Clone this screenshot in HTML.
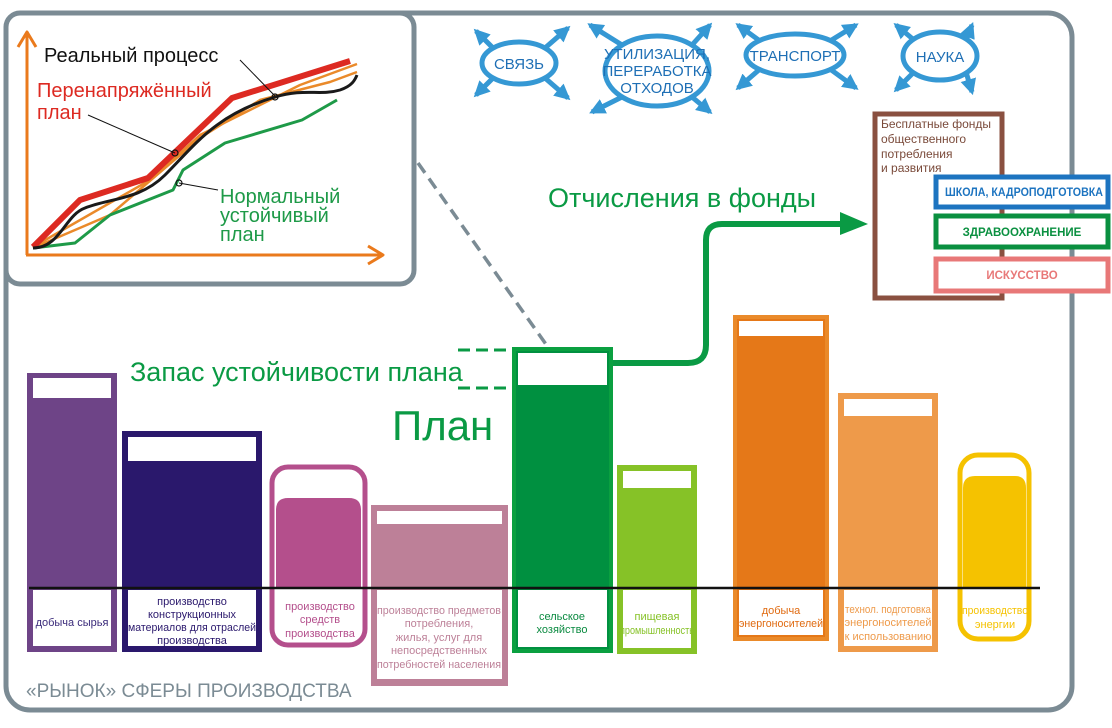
<!DOCTYPE html>
<html><head><meta charset="utf-8"><style>
html,body{margin:0;padding:0;background:#fff;}
svg{display:block;}
text{font-family:"Liberation Sans","DejaVu Sans",sans-serif;}
</style></head><body>
<svg width="1112" height="728" viewBox="0 0 1112 728" xmlns="http://www.w3.org/2000/svg">
<defs>
<marker id="ba" viewBox="0 0 10 10" refX="8" refY="5" markerWidth="3.2" markerHeight="3.2" orient="auto"><path d="M0,0 L10,5 L0,10 z" fill="#3598d4"/></marker>
</defs>
<rect x="6" y="13" width="1066" height="697" rx="24" fill="#fff" stroke="#7b8b94" stroke-width="5"/>

<g stroke="#3598d4" stroke-width="5" fill="none">
<ellipse cx="519" cy="63" rx="37" ry="21"/>
<ellipse cx="657" cy="71" rx="52" ry="35"/>
<ellipse cx="795" cy="55" rx="49" ry="21"/>
<ellipse cx="940" cy="56" rx="37" ry="24"/>
<g stroke-width="5" marker-end="url(#ba)">
<line x1="493" y1="48" x2="476" y2="31"/><line x1="545" y1="48" x2="568" y2="28"/>
<line x1="493" y1="78" x2="476" y2="95"/><line x1="545" y1="78" x2="568" y2="98"/>
<line x1="622" y1="45" x2="590" y2="25"/><line x1="692" y1="45" x2="710" y2="25"/>
<line x1="622" y1="97" x2="592" y2="112"/><line x1="692" y1="97" x2="710" y2="112"/>
<line x1="760" y1="41" x2="738" y2="25"/><line x1="830" y1="41" x2="856" y2="25"/>
<line x1="760" y1="69" x2="738" y2="88"/><line x1="830" y1="69" x2="856" y2="88"/>
<line x1="914" y1="40" x2="896" y2="25"/><line x1="966" y1="40" x2="972" y2="25"/>
<line x1="914" y1="72" x2="896" y2="90"/><line x1="966" y1="72" x2="972" y2="92"/>
</g>
</g>
<g fill="#1e6fb5" font-size="15" text-anchor="middle">
<text x="519" y="69">СВЯЗЬ</text>
<text x="657" y="59">УТИЛИЗАЦИЯ,</text>
<text x="657" y="76">ПЕРЕРАБОТКА</text>
<text x="657" y="93">ОТХОДОВ</text>
<text x="795" y="61">ТРАНСПОРТ</text>
<text x="940" y="62">НАУКА</text>
</g>

<line x1="418" y1="163" x2="550" y2="350" stroke="#7b8b94" stroke-width="3.5" stroke-dasharray="12,7"/>

<rect x="6" y="13" width="408" height="271" rx="14" fill="#fff" stroke="#7b8b94" stroke-width="5"/>
<g fill="none" stroke-linejoin="round">
<path d="M27,255 L27,32 M18,47 L27,32 L36,47" stroke="#ea7a1c" stroke-width="3"/>
<path d="M26,255 L383,255 M368,246 L383,255 L368,264" stroke="#ea7a1c" stroke-width="3"/>
<path d="M33,247 L150,180 L200,135 L300,85 L357,64" stroke="#ea8a2a" stroke-width="2.5"/>
<path d="M33,248 L110,215 L200,138 L260,100 L330,82 L357,72" stroke="#ea8a2a" stroke-width="2.5"/>
<path d="M33,248 L75,243 L110,215 L173,190 L183,170 L225,143 L302,120 L337,100" stroke="#1e9a48" stroke-width="3"/>
<path d="M33,247 L80,200 L148,178 L232,98 L350,61" stroke="#dd2a22" stroke-width="6"/>
<path d="M33,248 C60,248 65,215 85,208 C110,198 140,200 165,175 C195,145 215,115 275,97 C305,88 320,96 340,90 C352,86 355,80 357,75" stroke="#1a1a1a" stroke-width="3"/>
<line x1="240" y1="60" x2="275" y2="96" stroke="#111" stroke-width="1"/>
<line x1="88" y1="115" x2="175" y2="153" stroke="#111" stroke-width="1"/>
<line x1="179" y1="183" x2="218" y2="190" stroke="#111" stroke-width="1"/>
<circle cx="275" cy="97" r="3" stroke="#111" stroke-width="1.2"/>
<circle cx="175" cy="153" r="3" stroke="#111" stroke-width="1.2"/>
<circle cx="179" cy="183" r="3" stroke="#111" stroke-width="1.2"/>
</g>
<g font-size="20">
<text x="44" y="62" fill="#111">Реальный процесс</text>
<text x="37" y="97" fill="#dd2a22">Перенапряжённый</text>
<text x="37" y="119" fill="#dd2a22">план</text>
<text x="220" y="203" fill="#1e9a48">Нормальный</text>
<text x="220" y="222" fill="#1e9a48">устойчивый</text>
<text x="220" y="241" fill="#1e9a48">план</text>
</g>

<rect x="875" y="114" width="127" height="184" fill="#fff" stroke="#8a5040" stroke-width="5"/>
<g font-size="12" fill="#7a4a3a">
<text x="881" y="128">Бесплатные фонды</text>
<text x="881" y="143">общественного</text>
<text x="881" y="158">потребления</text>
<text x="881" y="172">и развития</text>
</g>
<rect x="936" y="177" width="172" height="30" fill="#fff" stroke="#1d74c0" stroke-width="5"/>
<rect x="936" y="216" width="172" height="31" fill="#fff" stroke="#0a9040" stroke-width="5"/>
<rect x="936" y="259" width="172" height="32" fill="#fff" stroke="#e87878" stroke-width="5"/>
<g font-size="11.5" font-weight="bold" text-anchor="middle">
<text x="1024" y="196" fill="#1d74c0" textLength="158" lengthAdjust="spacingAndGlyphs">ШКОЛА, КАДРОПОДГОТОВКА</text>
<text x="1022" y="236" fill="#0a9040">ЗДРАВООХРАНЕНИЕ</text>
<text x="1022" y="279" fill="#e87878">ИСКУССТВО</text>
</g>

<path d="M612,363 L688,363 Q706,363 706,345 L706,240 Q706,224 722,224 L845,224" fill="none" stroke="#0a9a44" stroke-width="6"/>
<path d="M840,212 L868,224 L840,235 z" fill="#0a9a44"/>
<text x="548" y="207" font-size="27" fill="#0a9a44">Отчисления в фонды</text>
<text x="130" y="381" font-size="27" fill="#0a9a44">Запас устойчивости плана</text>
<text x="392" y="440" font-size="42" fill="#0a9a44">План</text>
<g stroke="#0a9a44" stroke-width="3" stroke-dasharray="12,6">
<line x1="458" y1="350" x2="515" y2="350"/>
<line x1="458" y1="388" x2="515" y2="388"/>
</g>

<rect x="29" y="375" width="86" height="275" fill="#6e4487" stroke="#6e4487" stroke-width="4"/>
<rect x="33" y="378" width="78" height="20" fill="#fff"/>
<rect x="33" y="590" width="78" height="56" fill="#fff"/>
<rect x="124" y="433" width="136" height="217" fill="#2a186c" stroke="#2a186c" stroke-width="4"/>
<rect x="128" y="437" width="128" height="24" fill="#fff"/>
<rect x="128" y="590" width="128" height="56" fill="#fff"/>
<rect x="272" y="467" width="93" height="178" rx="16" fill="#fff" stroke="#b44f8c" stroke-width="5"/>
<path d="M276,510 Q276,498 288,498 L349,498 Q361,498 361,510 L361,588 L276,588 z" fill="#b44f8c"/>
<rect x="373" y="507" width="133" height="177" fill="#bd8098" stroke="#bd8098" stroke-width="4"/>
<rect x="377" y="511" width="125" height="13" fill="#fff"/>
<rect x="377" y="590" width="125" height="89" fill="#fff"/>
<rect x="514" y="349" width="97" height="302" fill="#009040" stroke="#0aa040" stroke-width="4"/>
<rect x="518" y="353" width="89" height="32" fill="#fff"/>
<rect x="518" y="590" width="89" height="57" fill="#fff"/>
<rect x="619" y="467" width="76" height="185" fill="#86c227" stroke="#86c227" stroke-width="4"/>
<rect x="623" y="471" width="68" height="17" fill="#fff"/>
<rect x="623" y="590" width="68" height="58" fill="#fff"/>
<rect x="735" y="317" width="92" height="322" fill="#e57818" stroke="#ea8a2a" stroke-width="4"/>
<rect x="739" y="321" width="84" height="15" fill="#fff"/>
<rect x="739" y="590" width="84" height="45" fill="#fff"/>
<rect x="840" y="395" width="96" height="255" fill="#ee9a4a" stroke="#ee9a4a" stroke-width="4"/>
<rect x="844" y="399" width="88" height="17" fill="#fff"/>
<rect x="844" y="590" width="88" height="56" fill="#fff"/>
<rect x="960" y="455" width="69" height="184" rx="18" fill="#fff" stroke="#f5c200" stroke-width="5"/>
<path d="M963,488 Q963,476 975,476 L1015,476 Q1026,476 1026,488 L1026,588 L963,588 z" fill="#f5c200"/>

<line x1="29" y1="588" x2="1040" y2="588" stroke="#111" stroke-width="2.5"/>

<g font-size="11" text-anchor="middle">
<text x="72" y="626" fill="#3a2a7a">добыча сырья</text>
<g fill="#2a186c"><text x="192" y="605">производство</text><text x="192" y="618">конструкционных</text><text x="192" y="631" textLength="128" lengthAdjust="spacingAndGlyphs">материалов для отраслей</text><text x="192" y="644">производства</text></g>
<g fill="#b44f8c"><text x="320" y="610">производство</text><text x="320" y="623">средств</text><text x="320" y="637">производства</text></g>
<g fill="#bd8098"><text x="439" y="614" textLength="124" lengthAdjust="spacingAndGlyphs">производство предметов</text><text x="439" y="627">потребления,</text><text x="439" y="641">жилья, услуг для</text><text x="439" y="654">непосредственных</text><text x="439" y="668" textLength="124" lengthAdjust="spacingAndGlyphs">потребностей населения</text></g>
<g fill="#0a8a40"><text x="562" y="620">сельское</text><text x="562" y="633">хозяйство</text></g>
<g fill="#86c227"><text x="657" y="620">пищевая</text><text x="657" y="634" textLength="74" lengthAdjust="spacingAndGlyphs">промышленность</text></g>
<g fill="#e06a10"><text x="781" y="614">добыча</text><text x="781" y="627" textLength="84" lengthAdjust="spacingAndGlyphs">энергоносителей</text></g>
<g fill="#ee9a4a"><text x="888" y="613" textLength="86" lengthAdjust="spacingAndGlyphs">технол. подготовка</text><text x="888" y="626">энергоносителей</text><text x="888" y="640">к использованию</text></g>
<g fill="#f5c200"><text x="995" y="614" textLength="66" lengthAdjust="spacingAndGlyphs">производство</text><text x="995" y="628">энергии</text></g>
</g>

<text x="26" y="697" font-size="19" fill="#7b8b94">«РЫНОК» СФЕРЫ ПРОИЗВОДСТВА</text>
</svg>
</body></html>
